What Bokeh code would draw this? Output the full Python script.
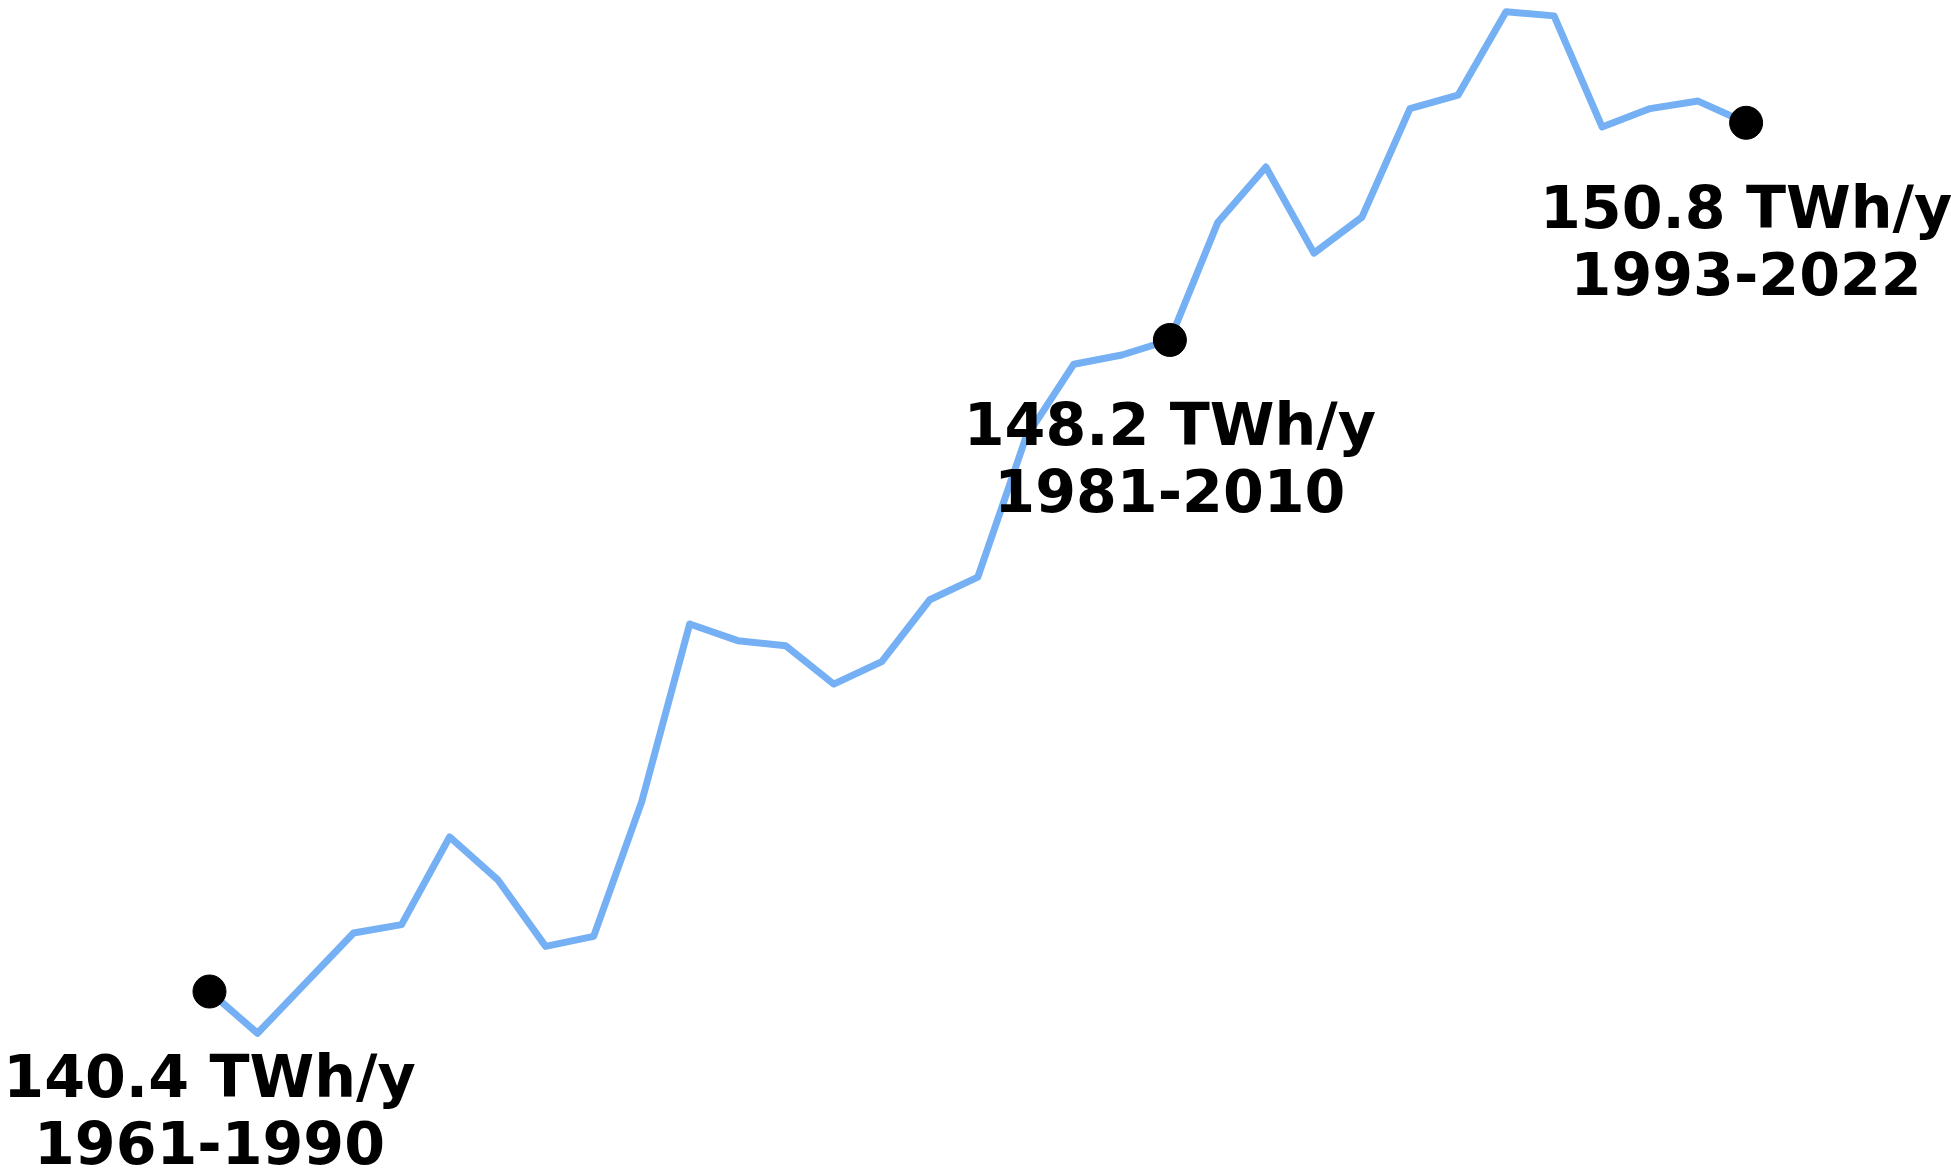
from bokeh.plotting import figure
from bokeh.models import ColumnDataSource, Range1d
from bokeh.core.properties import value
from bokeh.embed import file_html
from bokeh.resources import INLINE

# 30-year rolling windows (end year) and mean annual energy (TWh/y)
end_years = list(range(1990, 2023))
periods = [f"{y - 29}-{y}" for y in end_years]
energy_twh = [
    140.4, 139.9, 140.5, 141.1, 141.2, 142.25, 141.74, 140.94, 141.06, 142.67,
    144.80, 144.60, 144.54, 144.08, 144.35, 145.09, 145.36, 147.03, 147.91, 148.02,
    148.2, 149.61, 150.27, 149.24, 149.67, 150.97, 151.13, 152.13, 152.08, 150.75,
    150.97, 151.06, 150.8,
]
highlight_periods = ["1961-1990", "1981-2010", "1993-2022"]

hx, hy, hval, hper = [], [], [], []
for per in highlight_periods:
    i = periods.index(per)
    hx.append(end_years[i])
    hy.append(energy_twh[i])
    hval.append(f"{energy_twh[i]:.1f} TWh/y")
    hper.append(per)

line_src = ColumnDataSource(dict(x=end_years, y=energy_twh))
pt_src = ColumnDataSource(dict(x=hx, y=hy, val=hval, per=hper))

p = figure(width=1951, height=1168, output_backend="svg", toolbar_location=None,
           x_range=Range1d(1985.648, 2026.277), y_range=Range1d(138.281, 152.264),
           min_border=0, background_fill_color="white", border_fill_color="white")
p.axis.visible = False
p.grid.visible = False
p.outline_line_color = None

p.line("x", "y", source=line_src, line_color="#74b0f3", line_width=7,
       line_join="round", line_cap="round")
p.scatter("x", "y", source=pt_src, size=33, fill_color="black", line_color="black")

common = dict(text_font=value("DejaVu Sans"), text_font_style="bold",
              text_font_size="58.7px", text_align="center",
              text_baseline="alphabetic", text_color="black")
p.text("x", "y", text="val", source=pt_src, y_offset=85, **common)
p.text("x", "y", text="per", source=pt_src, y_offset=151, **common)

open("out.html", "w").write(file_html(p, INLINE))
